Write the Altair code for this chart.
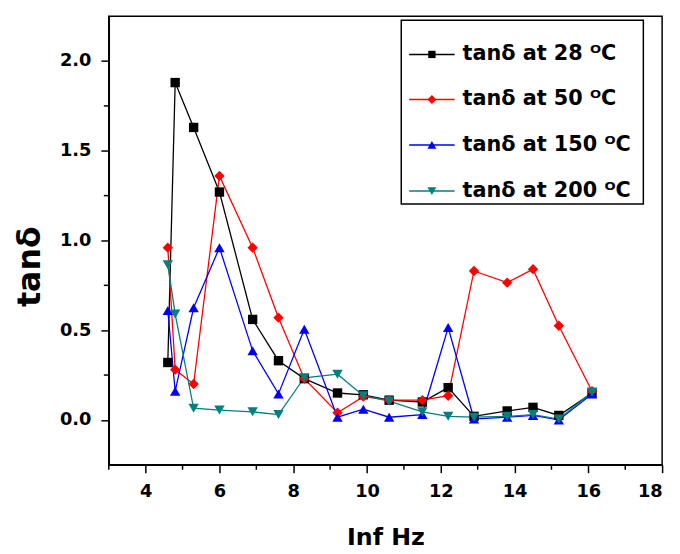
import altair as alt
import pandas as pd

# ---- data ----
freq = [4.6, 4.8, 5.3, 6.0, 6.9, 7.6, 8.3, 9.2, 9.9, 10.6, 11.5, 12.2, 12.9, 13.8, 14.5, 15.2, 16.1]
tan_28 = [0.32, 1.88, 1.63, 1.27, 0.56, 0.33, 0.23, 0.15, 0.14, 0.11, 0.10, 0.18, 0.02, 0.05, 0.07, 0.025, 0.15]
tan_50 = [0.96, 0.28, 0.20, 1.36, 0.96, 0.57, 0.23, 0.04, 0.13, 0.11, 0.11, 0.135, 0.83, 0.765, 0.84, 0.525, 0.16]
tan_150 = [0.61, 0.16, 0.625, 0.96, 0.385, 0.145, 0.505, 0.015, 0.06, 0.015, 0.03, 0.515, 0.005, 0.015, 0.025, 0.0, 0.145]
tan_200 = [0.865, 0.59, 0.065, 0.055, 0.045, 0.03, 0.235, 0.255, 0.135, 0.105, 0.045, 0.02, 0.015, 0.02, 0.03, 0.005, 0.155]

series_names = ["tanδ at 28 ᴼC", "\u00a0tanδ at 50 ᴼC", "tanδ at 150 ᴼC", "tanδ at 200 ᴼC"]
series_values = [tan_28, tan_50, tan_150, tan_200]
series_colors = ["#000000", "#ff0000", "#0000ff", "#008080"]
point_shapes = ["square", "diamond", "triangle-up", "triangle-down"]
point_sizes = [90, 110, 110, 110]

x_major = [4, 6, 8, 10, 12, 14, 16, 18]
x_minor = [3, 5, 7, 9, 11, 13, 15, 17]
y_major = [0.0, 0.5, 1.0, 1.5, 2.0]
y_minor = [0.25, 0.75, 1.25, 1.75]

rows = []
for i, (name, vals) in enumerate(zip(series_names, series_values)):
    for f, v in zip(freq, vals):
        rows.append({"freq": f, "tan": v, "series": name, "order": i})
df = pd.DataFrame(rows)

FONT = "DejaVu Sans"
xs = alt.Scale(domain=[3, 18], nice=False, zero=False)
ys = alt.Scale(domain=[-0.25, 2.25], nice=False, zero=False)
color = alt.Color("series:N", scale=alt.Scale(domain=series_names, range=series_colors), legend=None)

x_axis = alt.Axis(
    values=x_major, format="d", tickSize=8, tickWidth=1.5, labelPadding=10,
    labelFontSize=18, labelFont=FONT, labelFontWeight="bold", labelColor="black",
    title="Inf Hz", titleFont=FONT, titleFontSize=24, titleFontWeight="bold",
    titleColor="black", titleX=280, titleY=62, titleBaseline="top", titleAlign="center",
    grid=False, domainWidth=1.5, domainColor="black", tickColor="black")
y_axis = alt.Axis(
    values=y_major, format=".1f", tickSize=8, tickWidth=1.5, labelPadding=10,
    labelFontSize=18, labelFont=FONT, labelFontWeight="bold", labelColor="black",
    title="tanδ", titleFont=FONT, titleFontSize=32, titleFontWeight="bold",
    titleColor="black", titleX=-63, titleY=253, titleAngle=270, titleBaseline="bottom",
    titleAlign="center", grid=False, domainWidth=1.5, domainColor="black", tickColor="black")

base = alt.Chart(df)

lines = base.mark_line(strokeWidth=1.3).encode(
    x=alt.X("freq:Q", scale=xs, axis=x_axis),
    y=alt.Y("tan:Q", scale=ys, axis=y_axis),
    color=color,
)

# minor ticks drawn as short rules through the axis scales
x_minor_ticks = alt.Chart(pd.DataFrame({"v": x_minor})).mark_rule(
    color="black", strokeWidth=1.5
).encode(
    x=alt.X("v:Q", scale=xs, axis=x_axis),
    y=alt.value(454), y2=alt.value(459),
)
y_minor_ticks = alt.Chart(pd.DataFrame({"v": y_minor})).mark_rule(
    color="black", strokeWidth=1.5
).encode(
    y=alt.Y("v:Q", scale=ys, axis=y_axis),
    x=alt.value(-5), x2=alt.value(0),
)

point_layers = []
for name, shp, sz in zip(series_names, point_shapes, point_sizes):
    lyr = base.transform_filter(alt.datum.series == name).mark_point(
        filled=True, opacity=1, size=sz, shape=shp
    ).encode(
        x=alt.X("freq:Q", scale=xs, axis=x_axis),
        y=alt.Y("tan:Q", scale=ys, axis=y_axis),
        color=color,
    )
    point_layers.append(lyr)

# ---- legend box (drawn with marks, placed at the top right of the plot) ----
LEG_LEFT, LEG_RIGHT, LEG_TOP, LEG_BOTTOM = 296, 541, 4, 190
ROW_Y = [38.7, 84.3, 130.3, 177]
LINE_X0, LINE_X1, MARK_X, TEXT_X = 304, 350, 327, 358
legend_sizes = [55, 80, 80, 80]

legend_layers = [
    alt.Chart(pd.DataFrame({"k": [0]})).mark_rect(
        fill="white", stroke="black", strokeWidth=1.5
    ).encode(
        x=alt.value(LEG_LEFT), x2=alt.value(LEG_RIGHT),
        y=alt.value(LEG_TOP), y2=alt.value(LEG_BOTTOM),
    )
]
for name, col, shp, ry, sz in zip(series_names, series_colors, point_shapes, ROW_Y, legend_sizes):
    one = alt.Chart(pd.DataFrame({"series": [name]}))
    legend_layers.append(one.mark_rule(color=col, strokeWidth=1.5).encode(
        x=alt.value(LINE_X0), x2=alt.value(LINE_X1), y=alt.value(ry)))
    legend_layers.append(one.mark_point(filled=True, opacity=1, shape=shp, size=sz, color=col).encode(
        x=alt.value(MARK_X), y=alt.value(ry)))
    legend_layers.append(one.mark_text(
        align="left", baseline="middle", font=FONT, fontSize=21, fontWeight="bold", color="black"
    ).encode(x=alt.value(TEXT_X), y=alt.value(ry), text="series:N"))

chart = alt.layer(
    lines, x_minor_ticks, y_minor_ticks, *point_layers, *legend_layers
).properties(
    width=560, height=454,
    autosize=alt.AutoSizeParams(type="none"),
    padding={"left": 102, "top": 5, "right": 10, "bottom": 86},
).configure_view(
    stroke="black", strokeWidth=1.5
)

chart.save("out.html", embed_options={"renderer": "svg", "actions": False})
